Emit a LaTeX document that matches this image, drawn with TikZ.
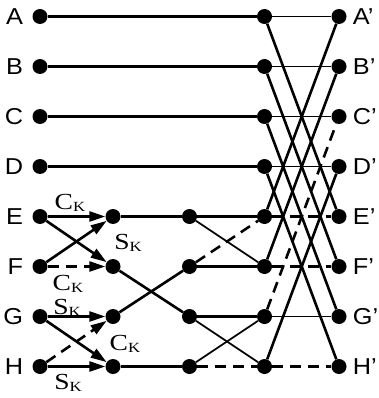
\documentclass[tikz,border=0pt]{standalone}
\usepackage{fontspec}
\setmainfont{Liberation Sans}[FakeStretch=1.1]
\newfontfamily\gainfont{Liberation Serif}[FakeStretch=1.2]
\usetikzlibrary{arrows.meta,positioning}
\newcommand{\gainC}{C\raisebox{-1.5pt}{\fontsize{14}{14}\selectfont K}}
\newcommand{\gainS}{S\raisebox{-1.5pt}{\fontsize{14}{14}\selectfont K}}
\tikzset{
  dot/.style={circle, fill=black, minimum size=15pt, inner sep=0pt},
  port/.style={font=\fontsize{23}{25}\selectfont, inner sep=0pt},
  gain/.style={font=\gainfont\fontsize{23}{25}\selectfont, inner sep=0pt},
  wire/.style={line width=2.6pt},
  thinwire/.style={line width=1.7pt},
  dashwire/.style={line width=2.6pt, dash pattern=on 11pt off 7pt},
  feed/.style={line width=2.6pt, -{Triangle[length=16pt,width=10pt]}}
}
\begin{document}
\begin{tikzpicture}[x=1pt,y=-1pt]
  \path[use as bounding box] (0,0) rectangle (378,398);

  % inputs
  \node[dot] (A0) at (40,16.5) {};  \node[dot] (B0) at (40,66.5) {};
  \node[dot] (C0) at (40,116.5) {}; \node[dot] (D0) at (40,166.5) {};
  \node[dot] (E0) at (40,216.5) {}; \node[dot] (F0) at (40,266.5) {};
  \node[dot] (G0) at (40,316.5) {}; \node[dot] (H0) at (40,366.5) {};

  % rotation stage
  \node[dot] (E1) at (113,216.5) {}; \node[dot] (F1) at (113,266.5) {};
  \node[dot] (G1) at (113,316.5) {}; \node[dot] (H1) at (113,366.5) {};
  \node[dot] (E2) at (189.5,216.5) {}; \node[dot] (F2) at (189.5,266.5) {};
  \node[dot] (G2) at (189.5,316.5) {}; \node[dot] (H2) at (189.5,366.5) {};

  % last butterfly
  \node[dot] (A3) at (264.5,16.5) {};  \node[dot] (B3) at (264.5,66.5) {};
  \node[dot] (C3) at (264.5,116.5) {}; \node[dot] (D3) at (264.5,166.5) {};
  \node[dot] (E3) at (264.5,216.5) {}; \node[dot] (F3) at (264.5,266.5) {};
  \node[dot] (G3) at (264.5,316.5) {}; \node[dot] (H3) at (264.5,366.5) {};
  \node[dot] (A4) at (339,16.5) {};  \node[dot] (B4) at (339,66.5) {};
  \node[dot] (C4) at (339,116.5) {}; \node[dot] (D4) at (339,166.5) {};
  \node[dot] (E4) at (339,216.5) {}; \node[dot] (F4) at (339,266.5) {};
  \node[dot] (G4) at (339,316.5) {}; \node[dot] (H4) at (339,366.5) {};

  \node[port, left=9pt of A0] {A}; \node[port, left=9pt of B0] {B};
  \node[port, left=9pt of C0] {C}; \node[port, left=9pt of D0] {D};
  \node[port, left=9pt of E0] {E}; \node[port, left=9pt of F0] {F};
  \node[port, left=9pt of G0] {G}; \node[port, left=9pt of H0] {H};
  \node[port, right=6pt of A4] {A'}; \node[port, right=6pt of B4] {B'};
  \node[port, right=6pt of C4] {C'}; \node[port, right=6pt of D4] {D'};
  \node[port, right=6pt of E4] {E'}; \node[port, right=6pt of F4] {F'};
  \node[port, right=6pt of G4] {G'}; \node[port, right=6pt of H4] {H'};

  \draw[wire] (A0) -- (A3); \draw[wire] (B0) -- (B3);
  \draw[wire] (C0) -- (C3); \draw[wire] (D0) -- (D3);

  \draw[feed] (E0) -- (E1);
  \draw[feed] (E0) -- (F1);
  \draw[feed] (F0) -- (E1);
  \draw[feed, dash pattern=on 11pt off 7pt] (F0) -- (F1);
  \draw[feed] (G0) -- (G1);
  \draw[feed] (G0) -- (H1);
  \draw[feed, dash pattern=on 11pt off 7pt] (H0) -- (G1);
  \draw[feed] (H0) -- (H1);
  \node[gain] (ckE) at (70,203) {\gainC};
  \node[gain] (skE) at (128,243) {\gainS};
  \node[gain] (ckF) at (68,284) {\gainC};
  \node[gain] (skG) at (67,308) {\gainS};
  \node[gain] (ckH) at (125,344) {\gainC};
  \node[gain] (skH) at (68,383) {\gainS};

  \draw[wire] (E1) -- (E2); \draw[wire] (F1) -- (G2);
  \draw[wire] (G1) -- (F2); \draw[wire] (H1) -- (H2);

  \draw[wire] (E2) -- (E3); \draw[thinwire] (E2) -- (F3);
  \draw[dashwire] (F2) -- (E3); \draw[wire] (F2) -- (F3);
  \draw[wire] (G2) -- (G3); \draw[thinwire] (G2) -- (H3);
  \draw[thinwire] (H2) -- (G3); \draw[dashwire] (H2) -- (H3);

  \draw[thinwire] (A3) -- (A4); \draw[thinwire] (B3) -- (B4);
  \draw[thinwire] (C3) -- (C4); \draw[thinwire] (D3) -- (D4);
  \draw[dashwire] (E3) -- (E4); \draw[dashwire] (F3) -- (F4);
  \draw[thinwire] (G3) -- (G4); \draw[dashwire] (H3) -- (H4);
  \draw[wire] (A3) -- (E4); \draw[wire] (E3) -- (A4);
  \draw[wire] (B3) -- (F4); \draw[wire] (F3) -- (B4);
  \draw[wire] (C3) -- (G4); \draw[dashwire] (G3) -- (C4);
  \draw[wire] (D3) -- (H4); \draw[wire] (H3) -- (D4);
\end{tikzpicture}
\end{document}
